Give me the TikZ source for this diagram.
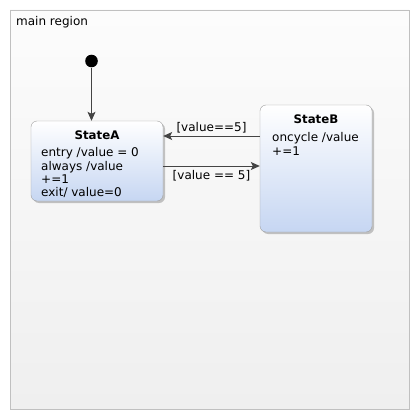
\documentclass[tikz,border=0pt]{standalone}
\usepackage{fontspec}
\setmainfont{DejaVu Sans}
\usepackage{xcolor}
\usepackage{tikz}
\usetikzlibrary{arrows.meta,shadows}

\definecolor{regionline}{RGB}{192,192,192}
\definecolor{regiontop}{RGB}{252,252,252}
\definecolor{regionbot}{RGB}{239,239,239}
\definecolor{stateline}{RGB}{160,160,160}
\definecolor{statebot}{RGB}{198,214,242}
\definecolor{transcol}{RGB}{68,68,68}

\begin{document}
\begin{tikzpicture}[
  x=1pt, y=-1pt,
  font=\fontsize{12}{13.3}\selectfont, >=Stealth,
  region/.style={draw=regionline, top color=regiontop, bottom color=regionbot,
                 minimum width=399pt, minimum height=399pt, inner sep=0pt},
  statebox/.style={draw=stateline, rounded corners=6pt, top color=white,
                   bottom color=statebot, inner sep=0pt,
                   drop shadow={shadow xshift=2pt, shadow yshift=-2pt,
                                fill=black!45, opacity=0.5}},
  statetitle/.style={font=\fontsize{11.8}{13.3}\selectfont\bfseries, inner sep=0pt},
  statebody/.style={anchor=north west, align=left, inner sep=0pt},
  initdot/.style={circle, fill=black, minimum size=12.6pt, inner sep=0pt},
  trans/.style={->, color=transcol, line width=0.9pt,
                arrows={-Stealth[length=9pt, width=8pt, inset=2pt]}},
  guard/.style={text=black, inner sep=2pt},
]
\useasboundingbox (0,0) rectangle (420,420);
% region
\node[region] (main) at (209.5,209.5) {};
\node[anchor=west, inner sep=0pt] (main-name) at (16,22) {main region};

% states
\node[statebox, minimum width=132pt, minimum height=80pt] (A) at (97,161) {};
\node[statetitle] (A-title) at (97,135) {StateA};
\node[statebody] (A-body) at (41,147.5) {entry /value = 0\\always /value\\+=1\\exit/ value=0};

\node[statebox, minimum width=112pt, minimum height=127pt] (B) at (316,168.5) {};
\node[statetitle] (B-title) at (316,119) {StateB};
\node[statebody] (B-body) at (272,132.5) {oncycle /value\\+=1};

% initial
\node[initdot] (init) at (91.5,61) {};
\draw[trans] (init) -- (init |- A.north);

% transitions
\draw[trans] ([yshift=32.5pt]B.west) coordinate (b1) -- (b1 -| A.east)
  node[guard, midway, above] {[value==5]};
\draw[trans] ([yshift=-5pt]A.east) coordinate (a1) -- (a1 -| B.west)
  node[guard, midway, below, yshift=-2pt] {[value == 5]};
\end{tikzpicture}
\end{document}
